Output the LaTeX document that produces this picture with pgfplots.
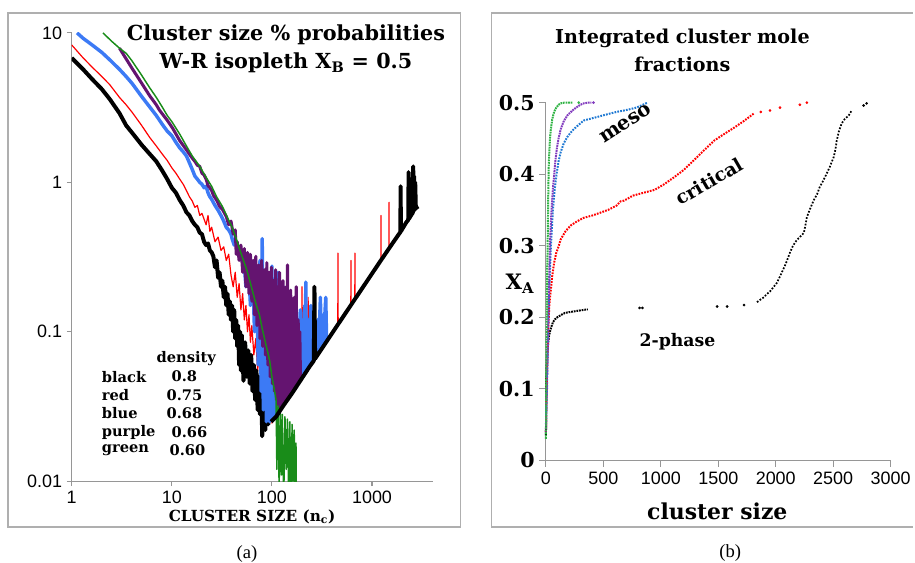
\documentclass[border=0pt]{standalone}
\usepackage{pgfplots}
\pgfplotsset{compat=1.18}
\usepackage{fontspec}
\setmainfont{Liberation Serif}
\newfontfamily\ser{DejaVu Serif}
\newfontfamily\arial{Liberation Sans}
\definecolor{lblue}{RGB}{60,122,245}
\definecolor{lpurple}{RGB}{100,20,112}
\definecolor{lgreen}{RGB}{25,140,25}
\definecolor{rgreen}{RGB}{50,180,70}
\definecolor{rpurple}{RGB}{130,60,190}
\definecolor{rblue}{RGB}{30,120,210}
\definecolor{framegray}{RGB}{175,175,175}
\definecolor{axisgray}{RGB}{150,150,150}
\begin{document}
\begin{tikzpicture}
\begin{scope}[x=0.75pt,y=-0.75pt]
\path[use as bounding box] (0,0) rectangle (915,564);
\draw[framegray, line width=0.9pt] (8,13) rectangle (462,529);
\draw[framegray, line width=0.9pt] (916,13) -- (493,13) -- (493,529) -- (916,529);
\end{scope}

% ---------------- left panel ----------------
\begin{axis}[at={(54pt,-362.25pt)}, anchor=south west, scale only axis,
  width=272.25pt, height=337.5pt,
  xmode=log, ymode=log, xmin=1, xmax=4100, ymin=0.01, ymax=10,
  axis x line*=bottom, axis y line*=left,
  axis line style={axisgray, line width=0.8pt},
  tick style={axisgray, line width=0.8pt}, tick align=outside, major tick length=3.75pt,
  xminorticks=false, yminorticks=false,
  xtick={1,10,100,1000}, xticklabels={1,10,100,1000},
  ytick={0.01,0.1,1,10}, yticklabels={0.01,0.1,1,10},
  ticklabel style={font=\arial\fontsize{13.5}{15}\selectfont},
  every axis plot/.append style={line join=round},
]
% red
\addplot[red, line width=0.9pt] coordinates {
(1,8.3)(1.3,6.8)(1.6,5.9)(2,5.1)(2.4,4.5)(3,3.7)(3.5,3.3)(4,2.95)(5,2.4)(6,2.0)(7,1.75)(8,1.55)(9,1.4)(10,1.25)(11,1.15)(12,1.05)(13,0.97)(14,0.88)(15,0.8)(16,0.75)(17,0.68)(18,0.7)(19,0.6)(20,0.62)(22,0.52)(23,0.6)(24,0.47)(25,0.5)(27,0.4)(29,0.43)(31,0.35)(33,0.37)(35,0.3)(37,0.33)(39,0.24)(41,0.2)(43,0.25)(45,0.17)(47,0.21)(49,0.14)(51,0.18)(53,0.12)(55,0.15)(57,0.1)(59,0.13)(61,0.085)(63,0.11)(66,0.07)(69,0.09)(72,0.055)(75,0.075)(78,0.045)(81,0.06)(85,0.035)(89,0.05)(93,0.025)(96,0.04)(100,0.0245)
(110,0.027)(112,0.12)(114,0.028)(125,0.031)(127,0.09)(129,0.032)(140,0.034)(142,0.1)(144,0.035)(160,0.039)(162,0.12)(164,0.04)(176,0.043)(178,0.18)(180,0.044)(198,0.049)(200,0.2)(202,0.05)(228,0.056)(230,0.17)(232,0.057)(260,0.064)(262,0.13)(264,0.065)(300,0.0735)(302,0.15)(304,0.075)(343,0.084)(345,0.17)(347,0.085)(400,0.098)(455,0.111)(457,0.336)(459,0.112)(614,0.15)(616,0.30)(618,0.151)(673,0.165)(675,0.336)(677,0.166)(1228,0.3)(1230,0.6)(1232,0.302)(1478,0.362)(1480,0.735)(1482,0.363)(1550,0.38)};
% black (descending part)
\addplot[black, line width=3pt] coordinates {
(1,6.8)(1.3,5.7)(1.6,4.9)(2,4.2)(2.4,3.6)(3,2.9)(3.5,2.4)(4,2.15)(5,1.78)(6,1.55)(7,1.38)(8,1.2)(9,1.05)(10,0.92)(11,0.85)(12,0.76)(13,0.7)(14,0.63)(15,0.6)(16,0.55)(17,0.52)(18,0.5)(19,0.46)(20,0.45)(21,0.4)(22,0.38)(23,0.39)(24,0.35)(25,0.34)(26,0.32)(27,0.27)(28,0.3)(29,0.23)(30,0.25)(31,0.2)(32,0.22)(33,0.17)(34,0.2)(35,0.15)(36,0.18)(37,0.13)(38,0.16)(39,0.12)(40,0.15)(41,0.1)(42,0.14)(43,0.09)(44,0.12)(45,0.08)(46,0.11)(47,0.06)(48,0.1)(49,0.055)(50,0.095)(52,0.047)(54,0.085)(56,0.05)(58,0.075)(60,0.045)(62,0.07)(64,0.04)(66,0.06)(68,0.035)(70,0.055)(72,0.03)(74,0.05)(76,0.028)(78,0.045)(80,0.02)(83,0.04)(86,0.022)(89,0.055)(92,0.024)(95,0.04)(98,0.025)};
% blue
\addplot[lblue, line width=2.6pt] coordinates {
(1.13,10)(1.3,9.2)(1.6,8.3)(2,7.4)(2.4,6.6)(3,5.7)(3.5,5.1)(4,4.6)(5,3.75)(6,3.2)(7,2.8)(8,2.45)(9,2.2)(10,2.05)(11,1.85)(12,1.7)(13,1.6)(14,1.5)(15,1.35)(16,1.22)(17,1.1)(18,1.05)(19,1.0)(20,0.97)(21,0.92)(22,0.94)(23,0.85)(24,0.8)(25,0.77)(27,0.7)(29,0.65)(31,0.6)(33,0.55)(35,0.5)(37,0.48)(39,0.45)
(40,0.42)(42,0.38)(44,0.4)(46,0.33)(48,0.36)(50,0.3)(52,0.33)(55,0.2)(58,0.3)(61,0.15)(64,0.27)(67,0.1)(70,0.24)(73,0.06)(76,0.3)(78,0.04)(80,0.42)(82,0.03)(86,0.25)(88,0.025)(92,0.22)(95,0.025)(100,0.275)(103,0.026)(108,0.2)(111,0.028)(115,0.25)(118,0.03)(123,0.18)(126,0.031)(131,0.2)(134,0.033)(139,0.15)(142,0.035)(147,0.18)(150,0.037)(156,0.14)(159,0.039)(165,0.15)(168,0.041)(172,0.17)(175,0.043)(182,0.12)(185,0.045)(192,0.14)(195,0.048)(203,0.12)(206,0.05)(212,0.15)(215,0.053)(218,0.215)(221,0.054)(230,0.12)(233,0.057)(245,0.15)(250,0.061)(262,0.11)(268,0.066)(285,0.12)(292,0.072)(305,0.17)(312,0.076)(318,0.13)(325,0.08)(345,0.17)(352,0.086)(360,0.088)};
% purple
\addplot[lpurple, line width=2.3pt] coordinates {
(3,7.9)(4,5.8)(5,4.6)(6,3.8)(7,3.3)(7.5,3.05)(9,2.6)(10.2,2.3)(12,1.9)(14,1.65)(16,1.45)(17,1.38)(18,1.3)(19,1.28)(20,1.15)(21,1.12)(22,1.05)(23,0.95)(24,0.92)(25,0.88)(26,0.82)(28,0.76)(30,0.69)(32,0.66)(35,0.59)(37,0.52)(39,0.55)(41,0.45)(43,0.48)
(44,0.33)(45,0.4)(47,0.3)(49,0.38)(51,0.25)(53,0.36)(55,0.2)(57,0.34)(59,0.18)(61,0.33)(63,0.16)(65,0.3)(67,0.13)(69,0.32)(71,0.11)(74,0.28)(76,0.09)(79,0.3)(81,0.08)(84,0.26)(86,0.07)(89,0.29)(91,0.06)(94,0.25)(96,0.05)(99,0.27)(101,0.045)(104,0.22)(106,0.04)(109,0.26)(111,0.035)(114,0.2)(116,0.032)(119,0.25)(121,0.031)(124,0.18)(126,0.032)(129,0.22)(131,0.033)(134,0.16)(136,0.034)(139,0.2)(141,0.035)(143,0.28)(145,0.036)(148,0.15)(150,0.037)(154,0.19)(156,0.038)(160,0.13)(163,0.04)(167,0.17)(170,0.042)(175,0.2)(178,0.044)(183,0.12)(186,0.046)(190,0.1)(193,0.047)(200,0.049)};
% green
\addplot[lgreen, line width=1.1pt] coordinates {
(2.05,10)(2.5,8.8)(3,7.9)(3.5,7.3)(4,6.5)(5,5.2)(6,4.3)(7,3.7)(8,3.2)(9,2.8)(10,2.55)(12,2.1)(14,1.75)(16,1.5)(19,1.28)(22,1.08)(25,0.94)(28,0.8)(32,0.69)(36,0.58)(40,0.5)(44,0.42)(48,0.35)(52,0.3)(56,0.26)(60,0.22)(65,0.18)(70,0.15)(75,0.13)(80,0.105)(85,0.088)(90,0.075)(95,0.064)(100,0.05)(105,0.042)(110,0.035)(112,0.012)(115,0.032)(118,0.009)(121,0.03)(124,0.011)(127,0.028)(131,0.007)(135,0.027)(139,0.012)(143,0.026)(147,0.008)(151,0.025)(155,0.006)(159,0.024)(163,0.01)(167,0.022)(171,0.005)(174,0.018)(176,0.004)};
% black (floor and tail)
\addplot[black, line width=3pt] coordinates {
(98,0.025)(110,0.027)(130,0.032)(160,0.039)(200,0.049)(240,0.059)(262,0.064)(266,0.2)(270,0.066)(400,0.098)(800,0.196)(1200,0.294)(1600,0.39)(1920,0.465)(1930,0.94)(1945,0.47)(2200,0.54)(2300,0.56)(2320,1.17)(2340,0.57)(2450,0.6)(2470,1.05)(2500,0.61)(2560,0.63)(2580,1.28)(2600,0.64)(2630,1.1)(2660,0.65)(2700,1.0)(2740,0.67)(2800,0.68)(2900,0.69)};
\end{axis}

% ---------------- right panel ----------------
\begin{axis}[at={(411pt,-346.5pt)}, anchor=south west, scale only axis,
  width=259.5pt, height=269.25pt,
  xmin=0, xmax=3000, ymin=0, ymax=0.5,
  axis x line*=bottom, axis y line*=left,
  axis line style={axisgray, line width=0.8pt},
  tick style={axisgray, line width=0.8pt}, tick align=outside, major tick length=5pt,
  xtick={0,500,1000,1500,2000,2500,3000}, xticklabels={0,500,1000,1500,2000,2500,3000},
  ytick={0,0.1,0.2,0.3,0.4,0.5}, yticklabels={0,0.1,0.2,0.3,0.4,0.5},
  xticklabel style={font=\arial\fontsize{13.5}{15}\selectfont},
  yticklabel style={font=\ser\bfseries\fontsize{15.5}{17}\selectfont},
  clip=false,
]
% black
\addplot[black, line width=1.5pt, dash pattern=on 1.3pt off 0.7pt] coordinates {
(0,0.035)(2,0.06)(3,0.09)(5,0.12)(8,0.14)(12,0.15)(17,0.16)(25,0.172)(35,0.18)(50,0.188)(61,0.193)(78,0.197)(100,0.2)(130,0.203)(165,0.206)(200,0.207)(240,0.208)(277,0.209)(320,0.21)(364,0.211)};
\addplot[black, only marks, mark=*, mark size=0.8pt] coordinates {
(815,0.213)(840,0.213)(1490,0.215)(1577,0.215)(1724,0.217)(2765,0.496)(2791,0.499)};
\addplot[black, line width=1.3pt, dash pattern=on 1.3pt off 1.2pt] coordinates {
(1837,0.221)(1870,0.225)(1898,0.228)(1920,0.232)(1950,0.236)(1980,0.242)(2010,0.248)(2037,0.257)(2060,0.265)(2080,0.272)(2100,0.28)(2123,0.29)(2150,0.3)(2184,0.308)(2210,0.312)(2245,0.318)(2260,0.33)(2271,0.34)(2300,0.352)(2332,0.364)(2360,0.372)(2383,0.382)(2410,0.39)(2444,0.401)(2470,0.41)(2505,0.424)(2520,0.435)(2531,0.447)(2550,0.46)(2574,0.471)(2600,0.477)(2635,0.482)(2661,0.489)};
% red
\addplot[red, line width=1.5pt, dash pattern=on 1.3pt off 0.9pt] coordinates {
(0,0.04)(3,0.07)(6,0.1)(10,0.125)(14,0.145)(20,0.18)(25,0.2)(29,0.215)(36,0.228)(43,0.239)(55,0.258)(71,0.276)(90,0.29)(104,0.296)(129,0.309)(170,0.32)(214,0.328)(270,0.334)(329,0.339)(400,0.342)(471,0.346)(540,0.35)(614,0.356)(650,0.362)(680,0.363)(757,0.37)(850,0.374)(945,0.378)(1030,0.386)(1118,0.396)(1200,0.406)(1291,0.42)(1380,0.434)(1465,0.447)(1550,0.456)(1638,0.465)(1720,0.474)(1811,0.485)};
\addplot[red, only marks, mark=*, mark size=0.8pt] coordinates {
(1870,0.487)(1950,0.489)(2037,0.493)(2210,0.497)(2271,0.5)};
% blue
\addplot[rblue, line width=1.5pt, dash pattern=on 1.3pt off 0.9pt] coordinates {
(0,0.05)(3,0.07)(6,0.085)(9,0.098)(14,0.14)(20,0.192)(27,0.23)(34,0.262)(42,0.295)(51,0.323)(60,0.348)(71,0.37)(82,0.387)(94,0.402)(110,0.418)(129,0.431)(155,0.443)(186,0.452)(215,0.458)(243,0.463)(285,0.469)(329,0.475)(400,0.478)(471,0.481)(540,0.484)(614,0.487)(680,0.489)(737,0.491)(786,0.493)(830,0.496)(884,0.5)};
% purple
\addplot[rpurple, line width=1.5pt, dash pattern=on 1.3pt off 0.6pt] coordinates {
(0,0.04)(3,0.07)(6,0.1)(10,0.125)(14,0.145)(20,0.19)(26,0.239)(31,0.275)(37,0.309)(44,0.335)(51,0.356)(60,0.378)(71,0.398)(82,0.418)(94,0.435)(110,0.45)(129,0.463)(155,0.474)(186,0.482)(230,0.489)(271,0.494)(300,0.497)(329,0.499)(370,0.5)(395,0.5)};
\addplot[rpurple, only marks, mark=*, mark size=0.8pt] coordinates {(414,0.5)};
% green
\addplot[rgreen, line width=1.5pt, dash pattern=on 1.3pt off 0.6pt] coordinates {
(0,0.03)(1,0.07)(2,0.11)(4,0.16)(7,0.2)(9,0.24)(11,0.27)(14,0.29)(17,0.33)(20,0.37)(24,0.41)(29,0.43)(35,0.45)(43,0.463)(55,0.477)(71,0.487)(90,0.493)(110,0.497)(130,0.499)(160,0.5)(190,0.5)(229,0.5)};
\addplot[rgreen, only marks, mark=*, mark size=0.8pt] coordinates {(286,0.5)};
\end{axis}

% ---------------- texts ----------------
\begin{scope}[x=0.75pt,y=-0.75pt, every node/.style={inner sep=0pt}]
\node[align=center, font=\ser\bfseries\fontsize{15.6}{21.5}\selectfont] at (287,49) {Cluster size \% probabilities\\W-R isopleth X\textsubscript{B} = 0.5};
\node[anchor=west, font=\ser\bfseries\fontsize{11}{12}\selectfont] at (157,360) {density};
\foreach \n/\v/\xx/\yy in {black/0.8/172/378, red/0.75/167/397, blue/0.68/167/415, purple/0.66/172/434, green/0.60/170/452}{
  \node[anchor=west, font=\ser\bfseries\fontsize{11}{12}\selectfont] at (102,\yy) {\n};
  \node[anchor=west, font=\ser\bfseries\fontsize{11}{12}\selectfont] at (\xx,\yy) {\v};
}
\node[font=\ser\bfseries\fontsize{11.5}{13}\selectfont] at (253,519) {CLUSTER SIZE (n\textsubscript{c})};
\node[font=\fontsize{14}{16}\selectfont] at (248,556) {(a)};
\node[font=\fontsize{14}{16}\selectfont] at (733,555) {(b)};
\node[align=center, font=\ser\bfseries\fontsize{14.4}{21}\selectfont] at (685,51) {Integrated cluster mole\\fractions};
\node[rotate=33, font=\ser\bfseries\fontsize{15}{17}\selectfont] at (628,124) {meso};
\node[rotate=30, font=\ser\bfseries\fontsize{14}{16}\selectfont] at (712,182) {critical};
\node[font=\ser\bfseries\fontsize{13}{15}\selectfont] at (680,343) {2-phase};
\node[font=\ser\bfseries\fontsize{16}{18}\selectfont] at (522,285) {X\textsubscript{A}};
\node[font=\ser\bfseries\fontsize{16.5}{20}\selectfont] at (720,513) {cluster size};
\end{scope}
\end{tikzpicture}
\end{document}
